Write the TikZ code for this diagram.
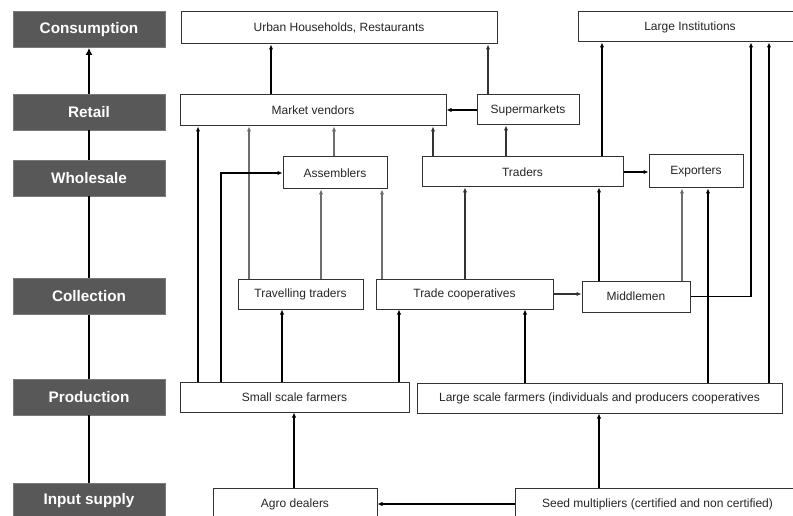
\documentclass[tikz,border=0pt]{standalone}
\usepackage{fontspec}
\setmainfont{Liberation Sans}
\usetikzlibrary{arrows.meta}
\definecolor{catfill}{HTML}{585858}
\definecolor{boxedge}{HTML}{333333}
\definecolor{lightline}{HTML}{6E6E6E}
% actor box: name, centre x, centre y, width, height, text
\newcommand\actorbox[6]{\node[actor, minimum width=#4pt, minimum height=#5pt] (#1) at (#2,#3) {#6};}
\begin{document}
\begin{tikzpicture}[x=1pt,y=-1pt,
  cat/.style={fill=catfill, draw=catfill!80!white, line width=0.8pt, text=white,
    font=\fontsize{15.3}{17}\selectfont\bfseries, minimum width=152pt, minimum height=36pt, inner sep=0pt},
  actor/.style={draw=boxedge, line width=1pt, fill=white, text=black!85,
    font=\fontsize{12}{14}\selectfont, inner sep=0pt},
  tip/.style={-{Latex[length=5pt,width=4.5pt]}},
  heavy/.style={tip, line width=1.9pt, black},
  medium/.style={tip, line width=1.4pt, black!80},
  light/.style={tip, line width=1.2pt, lightline},
  spine/.style={line width=2.4pt, black},
]
\clip (0,0) rectangle (793,516);
\fill[white] (0,0) rectangle (793,516);

% stages of the chain
\node[cat] (cons)  at (89,29.5) {Consumption};
\node[cat] (ret)   at (89,112)  {Retail};
\node[cat] (whole) at (89,178)  {Wholesale};
\node[cat] (coll)  at (89,296.5){Collection};
\node[cat] (prod)  at (89,397)  {Production};
\node[cat] (inp)   at (89,501)  {Input supply};

\draw[spine, -{Latex[length=7pt,width=7pt]}] (ret) -- (cons);
\draw[spine] (whole) -- (ret);
\draw[spine] (coll) -- (whole);
\draw[spine] (prod) -- (coll);
\draw[spine] (inp) -- (prod);

% actors
\actorbox{urban}{339}{28}{316}{32}{Urban Households, Restaurants}
\actorbox{inst}{690}{27}{224}{30}{Large Institutions}
\actorbox{market}{313}{110.5}{266}{31}{Market vendors}
\actorbox{super}{528}{110}{102}{30}{Supermarkets}
\actorbox{assem}{335}{173}{104}{32}{Assemblers}
\actorbox{traders}{522.5}{172}{201}{30}{Traders}
\actorbox{export}{696}{171.5}{94}{33}{Exporters}
\actorbox{travel}{300.5}{294}{125}{30}{Travelling traders}
\actorbox{coop}{464.5}{294}{177}{30}{Trade cooperatives}
\actorbox{middle}{636}{296.5}{108}{31}{Middlemen}
\actorbox{small}{294.5}{397}{229}{30}{Small scale farmers}
\actorbox{large}{599.5}{398}{365}{30}{Large scale farmers (individuals and producers cooperatives}
\actorbox{agro}{295}{504}{164}{32}{Agro dealers}
\actorbox{seed}{657.5}{504}{285}{32}{Seed multipliers (certified and non certified)}

% columns used by the vertical flows
\foreach \n/\x in {a/198, b/221, c/249, d/271, e/282, f/294, g/321, h/334, i/382, j/399,
                   k/433, l/465, m/488, n/506, o/525, p/599, q/602, r/682, s/708, t/751, u/769}
  \coordinate (col\n) at (\x,0);

% retail to consumption
\draw[heavy]  (market.north -| cold) -- (urban.south -| cold);
\draw[medium] (super.north -| colm) -- (urban.south -| colm);
\draw[heavy]  (super.west) -- (super.west -| market.east);
\draw[heavy]  (traders.north -| colq) -- (inst.south -| colq);

% wholesale to retail
\draw[medium] (traders.north -| colk) -- (market.south -| colk);
\draw[medium] (traders.north -| coln) -- (super.south -| coln);
\draw[light]  (assem.north -| colh) -- (market.south -| colh);
\draw[heavy]  (traders.east) -- (traders.east -| export.west);

% collection to wholesale / retail
\draw[light]  (travel.north -| colc) -- (market.south -| colc);
\draw[light]  (travel.north -| colg) -- (assem.south -| colg);
\draw[light]  (coop.north -| coli) -- (assem.south -| coli);
\draw[medium] (coop.north -| coll) -- (traders.south -| coll);
\draw[medium] (coop.east) -- (coop.east -| middle.west);
\draw[heavy]  (middle.north -| colp) -- (traders.south -| colp);
\draw[light]  (middle.north -| colr) -- (export.south -| colr);
\draw[heavy]  (middle.east) -| (inst.south -| colt);

% production upwards
\draw[heavy]  (small.north -| cola) -- (market.south -| cola);
\draw[heavy]  (small.north -| colb) |- (assem.west);
\draw[heavy]  (small.north -| cole) -- (travel.south -| cole);
\draw[heavy]  (small.north -| colj) -- (coop.south -| colj);
\draw[heavy]  (large.north -| colo) -- (coop.south -| colo);
\draw[heavy]  (large.north -| cols) -- (export.south -| cols);
\draw[heavy]  (large.north -| colu) -- (inst.south -| colu);

% input supply
\draw[heavy]  (agro.north -| colf) -- (small.south -| colf);
\draw[heavy]  (seed.north -| colp) -- (large.south -| colp);
\draw[heavy]  (seed.west) -- (seed.west -| agro.east);
\end{tikzpicture}
\end{document}
